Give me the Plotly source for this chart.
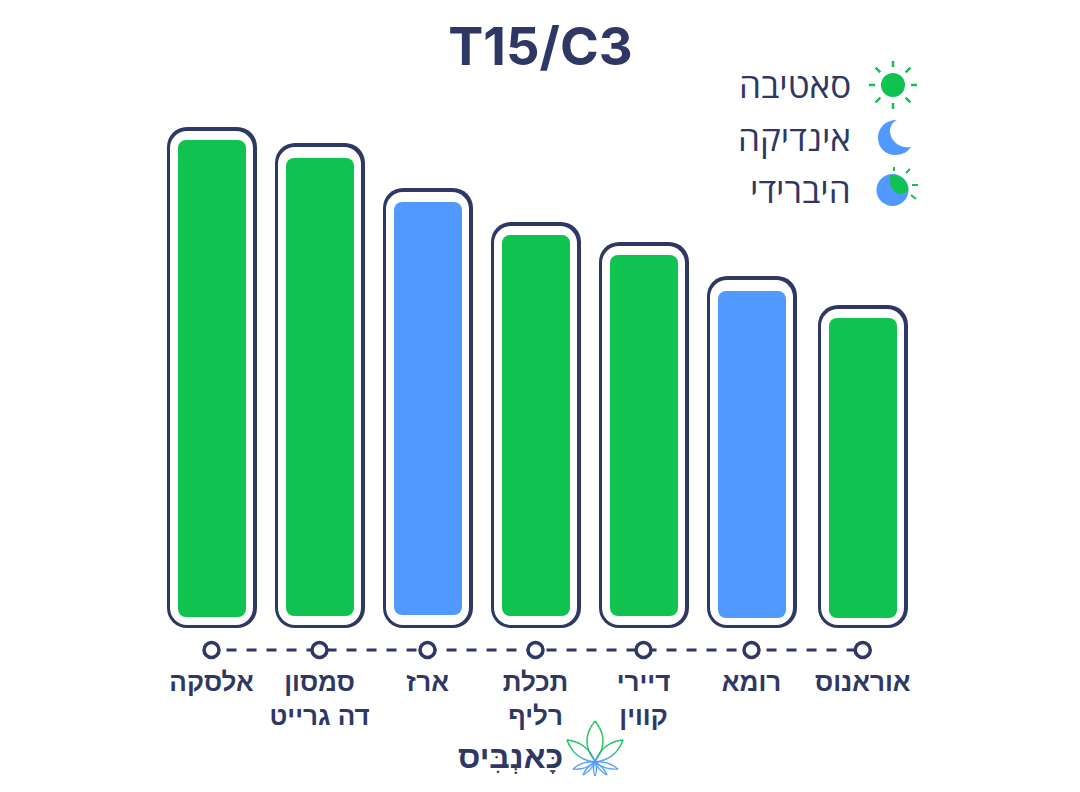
#!/usr/bin/env python3
"""T15/C3 strain chart, rebuilt with Plotly. One y unit is one pixel above the frame baseline."""
import numpy as np
import plotly.graph_objects as go

W, H = 1080, 792
NAVY = '#2f3764'
GREEN = '#10c250'
BLUE = '#5299ff'
FONT = 'Open Sans'

strains = ['אלסקה', 'סמסון<br>דה גרייט', 'ארז', 'תכלת<br>רליף', 'דיירי<br>קווין', 'רומא', 'אוראנוס']
strain_type = ['sativa', 'sativa', 'indica', 'sativa', 'sativa', 'indica', 'sativa']
frame_top = [501, 485, 440, 406, 386, 352, 323]
fill_top = [488, 470, 426, 393, 373, 337, 310]
fill_bottom = [11, 12, 13, 12, 12, 10, 10]
legend_labels = ['סאטיבה', 'אינדיקה', 'היברידי']

# horizontal layout, in slots of 108px
slots = [0, 1, 2, 3, 4, 5, 6.03]
X0, SLOT = 211.5, 108
BASE_PX, AXIS_PX = 628, 664
DOT_Y = -22

type_colors = {'sativa': GREEN, 'indica': BLUE}


def px(x, y):
    return x / W, 1 - y / H


def path(d, **kw):
    # d is a list of (command, x, y, x, y, ...) in pixels
    out = []
    for seg in d:
        cmd, vals = seg[0], seg[1:]
        pts = [px(vals[i], vals[i + 1]) for i in range(0, len(vals), 2)]
        out.append(cmd + ' '.join(f'{a:.5f},{b:.5f}' for a, b in pts))
    return dict(type='path', xref='paper', yref='paper', layer='above',
                path=' '.join(out) + ' Z', **kw)


def seg_line(x0, y0, x1, y1, color, width):
    a, b = px(x0, y0), px(x1, y1)
    return dict(type='line', xref='paper', yref='paper', layer='above',
                x0=a[0], y0=a[1], x1=b[0], y1=b[1], line=dict(color=color, width=width))


def rounded_bar(low, high, width, color, radius):
    low, high = np.array(low, float), np.array(high, float)
    return go.Bar(x=slots, y=high - low, base=low,
                  width=width / SLOT, marker=dict(color=color, cornerradius=radius, line_width=0),
                  hoverinfo='skip', showlegend=False)


fig = go.Figure()
top = np.array(frame_top)
fig.add_trace(rounded_bar([0.01] * 7, top, 90, NAVY, 20))
fig.add_trace(rounded_bar([3.5] * 7, top - 3.5, 83, 'white', 17))
fig.add_trace(rounded_bar(fill_bottom, fill_top, 68, [type_colors[t] for t in strain_type], 8))

# dashed rail with open circles
fig.add_trace(go.Scatter(x=[slots[0] - 0.046, slots[-1]], y=[DOT_Y, DOT_Y], mode='lines',
                         line=dict(color=NAVY, width=3, dash='10px,10px'),
                         hoverinfo='skip', showlegend=False))
fig.add_trace(go.Scatter(x=slots, y=[DOT_Y] * 7, mode='markers',
                         marker=dict(size=15, color='white', line=dict(color=NAVY, width=3.5)),
                         hoverinfo='skip', showlegend=False))

shapes = []

# sun icon
sx, sy = 893, 85
shapes.append(dict(type='circle', xref='paper', yref='paper', layer='above',
                   x0=px(sx - 12, sy)[0], x1=px(sx + 12, sy)[0],
                   y0=px(sx, sy + 12)[1], y1=px(sx, sy - 12)[1],
                   fillcolor=GREEN, line_width=0))
for i in range(8):
    a = i * np.pi / 4
    r0, r1 = (18, 24) if i % 2 == 0 else (18, 24.5)
    shapes.append(seg_line(sx + r0 * np.cos(a), sy + r0 * np.sin(a),
                           sx + r1 * np.cos(a), sy + r1 * np.sin(a), GREEN, 2.5))

# moon icon
shapes.append(path([('M', 897, 120), ('C', 885, 120, 878, 128, 878, 138),
                    ('C', 878, 148, 886, 155, 895, 155), ('C', 902, 155, 908, 152, 911, 147),
                    ('C', 900, 149, 890, 141, 890, 131), ('C', 890, 126, 893, 122, 897, 120)],
                   fillcolor=BLUE, line_width=0))

# hybrid icon
hx, hy = 892.5, 190
shapes.append(dict(type='circle', xref='paper', yref='paper', layer='above',
                   x0=px(hx - 16, hy)[0], x1=px(hx + 16, hy)[0],
                   y0=px(hx, hy + 16)[1], y1=px(hx, hy - 16)[1],
                   fillcolor=BLUE, line_width=0))
shapes.append(path([('M', 890, 175), ('C', 900, 174, 908, 180, 908.5, 190),
                    ('C', 906, 193, 903, 194, 900, 194), ('C', 893, 193, 889, 186, 890, 175)],
                   fillcolor=GREEN, line_width=0))
for r in [(894, 167, 894, 171), (906, 173, 910, 169), (912, 185, 918, 185), (911, 195, 916, 199)]:
    shapes.append(seg_line(*r, GREEN, 2))


# logo leaves, outline fades from green to blue
def mix(y):
    t = np.clip((y - 748) / 14, 0, 1)
    a, b = np.array([0x10, 0xc2, 0x50]), np.array([0x52, 0x99, 0xff])
    c = a + (b - a) * t
    return f'rgb({c[0]:.0f},{c[1]:.0f},{c[2]:.0f})'


def leaf(bx, by, tx, ty, bulge):
    # two quadratic edges from base to tip
    d = np.array([tx - bx, ty - by], float)
    n = np.array([-d[1], d[0]]) / np.hypot(*d)
    m = np.array([bx, by]) + d * 0.5
    for s in (1, -1):
        c = m + n * bulge * s
        u = np.linspace(0, 1, 13)
        xs = (1 - u) ** 2 * bx + 2 * u * (1 - u) * c[0] + u ** 2 * tx
        ys = (1 - u) ** 2 * by + 2 * u * (1 - u) * c[1] + u ** 2 * ty
        for i in range(12):
            shapes.append(seg_line(xs[i], ys[i], xs[i + 1], ys[i + 1], mix((ys[i] + ys[i + 1]) / 2), 1.4))


leaf(595, 761, 595, 721, 16)
leaf(595, 762, 567, 740, 11)
leaf(595, 762, 623, 740, 11)
leaf(595, 762, 573, 769, 5)
leaf(595, 762, 618, 769, 5)
leaf(595, 762, 583, 775, 3)
leaf(595, 762, 607, 775, 3)
leaf(595, 762, 595, 776, 3)

annotations = []
for label, y in zip(legend_labels, [85, 137, 190]):
    ax, ay = px(853, y)
    annotations.append(dict(text=label, x=ax, y=ay, xref='paper', yref='paper', xanchor='right',
                            yanchor='middle', showarrow=False, font=dict(family=FONT, size=35, color=NAVY)))
ax, ay = px(510.5, 757)
annotations.append(dict(text='כָּאנְבִּיס', x=ax, y=ay, xref='paper', yref='paper', xanchor='center',
                        yanchor='middle', showarrow=False,
                        font=dict(family='Liberation Sans', size=32, color=NAVY, weight=700)))

fig.update_layout(
    width=W, height=H, autosize=False,
    margin=dict(l=0, r=0, t=0, b=0),
    paper_bgcolor='white', plot_bgcolor='white',
    barmode='overlay', bargap=0,
    title=dict(text='T15/C3', x=540.5 / W, y=1 - 47 / H, xanchor='center', yanchor='middle',
               font=dict(family='Inter', size=52.5, color=NAVY, weight=700)),
    xaxis=dict(range=[-X0 / SLOT, (W - X0) / SLOT], tickmode='array', tickvals=slots, ticktext=strains,
               showgrid=False, zeroline=False, showline=False, ticks='',
               tickangle=0, tickfont=dict(family='Liberation Sans', size=26, color=NAVY, weight=700)),
    yaxis=dict(range=[BASE_PX - AXIS_PX, BASE_PX], domain=[1 - AXIS_PX / H, 1], visible=False),
    shapes=shapes, annotations=annotations,
)

# plotly draws bars with crisp edges, which makes the rounded corners jagged
fig.write_html('out.html', config=dict(displayModeBar=False),
               post_script="document.body.style.margin='0';"
                           "document.querySelectorAll('.bars path').forEach(p=>p.style.shapeRendering='auto');")
